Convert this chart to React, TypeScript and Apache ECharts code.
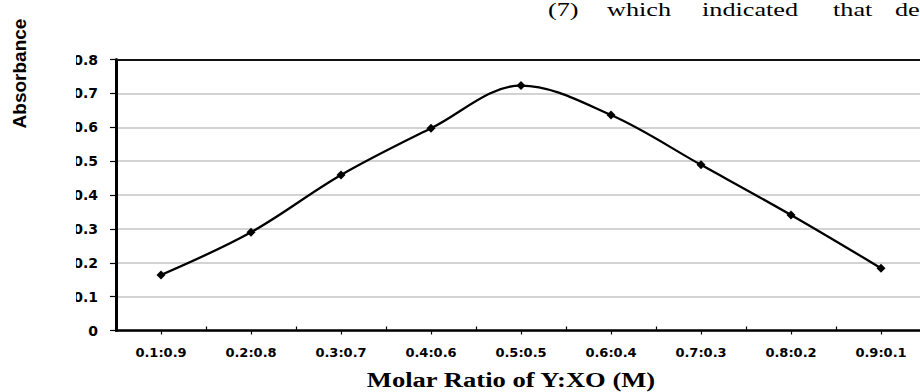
import React, { useEffect, useRef } from "react";
import * as echarts from "echarts";

const categories = ["0.1:0.9", "0.2:0.8", "0.3:0.7", "0.4:0.6", "0.5:0.5", "0.6:0.4", "0.7:0.3", "0.8:0.2", "0.9:0.1"];
const absorbance = [0.164, 0.29, 0.459, 0.597, 0.723, 0.636, 0.489, 0.341, 0.184];
const yTicks = { min: 0, max: 0.8, interval: 0.1 };
const topWords = [
  { text: "(7)", x: 548 },
  { text: "which", x: 607 },
  { text: "indicated", x: 702 },
  { text: "that", x: 833 },
  { text: "de", x: 895 },
];
const xTitle = "Molar Ratio of Y:XO (M)";
const yTitle = "Absorbance";

export default function App() {
  const ref = useRef<HTMLDivElement>(null);
  useEffect(() => {
    document.body.style.margin = "0";
    document.body.style.overflow = "hidden";
    const chart = echarts.init(ref.current!, undefined, { renderer: "svg" });
    const labelFont = { fontFamily: "DejaVu Sans", fontWeight: "bold" as const, fontSize: 13, color: "#000" };
    chart.setOption({
      animation: false,
      backgroundColor: "#fff",
      grid: { left: 116, top: 59.5, width: 810, height: 271, containLabel: false, outerBoundsMode: "none" },
      xAxis: [
        {
          type: "category",
          data: categories,
          position: "bottom",
          boundaryGap: true,
          axisLine: { onZero: false, lineStyle: { color: "#000", width: 2.5 } },
          axisTick: { show: true, alignWithLabel: true, length: 4, lineStyle: { color: "#000", width: 1.2 } },
          axisLabel: { ...labelFont, margin: 15, interval: 0 },
          splitLine: { show: false },
        },
        {
          type: "category",
          data: categories,
          position: "bottom",
          boundaryGap: true,
          axisLine: { show: false, onZero: false },
          axisTick: { show: true, inside: true, alignWithLabel: false, length: 4, lineStyle: { color: "#000", width: 1.2 } },
          axisLabel: { show: false },
          splitLine: { show: false },
        },
        {
          type: "category",
          data: categories,
          position: "top",
          axisLine: { show: true, onZero: false, lineStyle: { color: "#111", width: 2 } },
          axisTick: { show: false },
          axisLabel: { show: false },
          splitLine: { show: false },
        },
      ],
      yAxis: {
        type: "value",
        min: yTicks.min,
        max: yTicks.max,
        interval: yTicks.interval,
        axisLine: { show: true, onZero: false, lineStyle: { color: "#000", width: 3 } },
        axisTick: { show: true, length: 6, lineStyle: { color: "#000", width: 1.2 } },
        axisLabel: { ...labelFont, fontSize: 14, margin: 18, formatter: (v: number) => (v === 0 ? "0" : v.toFixed(1)) },
        splitLine: { show: true, lineStyle: { color: "#c4c4c4", width: 1.5 } },
      },
      series: [
        {
          type: "line",
          xAxisIndex: 0,
          data: absorbance,
          smooth: 0.35,
          symbol: "diamond",
          symbolSize: 9,
          itemStyle: { color: "#000" },
          lineStyle: { color: "#000", width: 2.3 },
          z: 5,
        },
      ],
      graphic: [
        { type: "rect", shape: { x: 50, y: 45, width: 26, height: 300 }, style: { fill: "#fff" }, z: 100 },
        ...topWords.map((w) => ({
          type: "text",
          x: w.x,
          y: 10,
          scaleX: 1.38,
          style: { text: w.text, fontFamily: "Liberation Serif", fontSize: 19, fill: "#000", verticalAlign: "middle", align: "left" },
        })),
        {
          type: "text",
          x: 511,
          y: 380,
          scaleX: 1.33,
          style: { text: xTitle, fontFamily: "Liberation Serif", fontWeight: "bold", fontSize: 20, fill: "#000", align: "center", verticalAlign: "middle" },
        },
        {
          type: "text",
          x: 19.5,
          y: 73.5,
          rotation: Math.PI / 2,
          style: { text: yTitle, fontFamily: "Liberation Sans", fontWeight: "bold", fontSize: 19, fill: "#000", align: "center", verticalAlign: "middle" },
        },
      ],
    });
    return () => chart.dispose();
  }, []);
  return <div ref={ref} style={{ width: 920, height: 392 }} />;
}
